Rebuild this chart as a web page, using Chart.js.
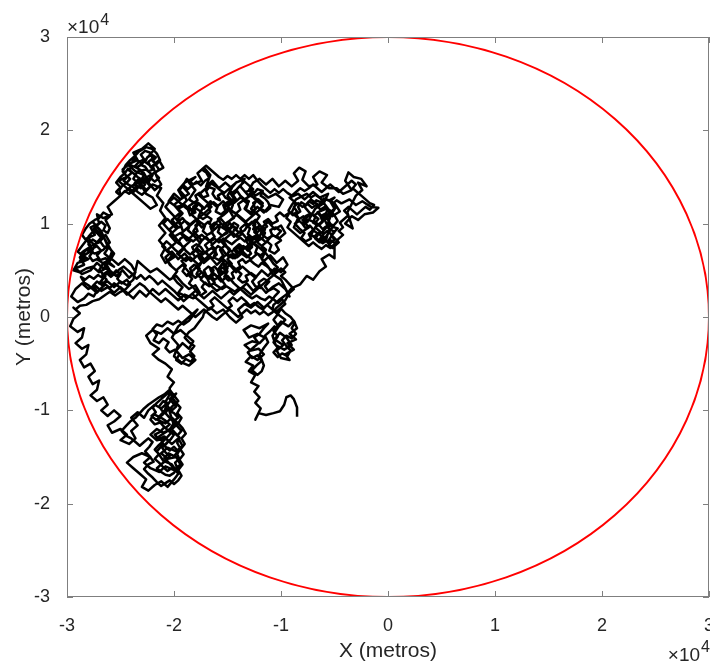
<!DOCTYPE html>
<html>
<head>
<meta charset="utf-8">
<script src="https://cdn.jsdelivr.net/npm/chart.js@4.4.1/dist/chart.umd.min.js"></script>
<style>
  html, body { margin: 0; padding: 0; background: #fff; }
  #wrap { width: 710px; height: 666px; }
</style>
</head>
<body>
<div id="wrap"><canvas id="walkChart" width="710" height="666"></canvas></div>
<script>
// valores em unidades de 10^4 metros
const axisTicks = [-3, -2, -1, 0, 1, 2, 3];
const circleCenter = [0, 0];
const circleRadius = 3;

// passeio aleatório, lido por trechos
const hookChain = [
  [-0.85,-1.07],[-0.85,-0.97],[-0.88,-0.88],[-0.91,-0.84],[-0.95,-0.86],[-0.97,-0.94],[-1.01,-1.01],[-1.07,-1.03],
  [-1.14,-1.05],[-1.21,-1.03],[-1.24,-1.10],[-1.19,-0.98],[-1.24,-0.92],[-1.20,-0.86],[-1.25,-0.80],[-1.21,-0.74],
  [-1.28,-0.70],[-1.24,-0.62],[-1.30,-0.58],[-1.26,-0.52],[-1.33,-0.48],[-1.28,-0.42],[-1.22,-0.46],[-1.16,-0.40],
  [-1.21,-0.34],[-1.28,-0.36],[-1.34,-0.30],[-1.27,-0.26],[-1.20,-0.28],[-1.15,-0.22],[-1.22,-0.18],[-1.30,-0.22],
  [-1.35,-0.14],[-1.28,-0.09],[-1.20,-0.12],[-1.12,-0.07]
];
const hookTangle = [
  [-1.16,-0.12],[-1.20,-0.18],[-1.25,-0.22],[-1.21,-0.28],[-1.26,-0.33],[-1.31,-0.38],[-1.27,-0.44],[-1.22,-0.41],
  [-1.18,-0.47],[-1.23,-0.52],[-1.27,-0.57],[-1.22,-0.62],[-1.18,-0.58],[-1.16,-0.52],[-1.20,-0.40],[-1.16,-0.33],
  [-1.12,-0.27],[-1.15,-0.20],[-1.10,-0.15],[-1.06,-0.10]
];
const lowerRightCluster = [
  [-1.05,-0.12],[-1.00,-0.05],[-0.93,-0.10],[-0.88,-0.04],[-0.85,-0.12],[-0.92,-0.18],[-0.86,-0.24],[-0.94,-0.28],
  [-0.88,-0.35],[-0.96,-0.40],[-0.92,-0.46],[-1.00,-0.44],[-1.04,-0.36],[-0.98,-0.30],[-1.06,-0.24],[-1.01,-0.17],
  [-0.95,-0.22],[-0.90,-0.30],[-0.97,-0.35],[-1.05,-0.30],[-1.08,-0.20],[-1.02,-0.10],[-0.96,-0.03],[-1.03,0.03],
  [-1.00,0.09]
];
const lowerRightTangle = [
  [-0.96,0.04],[-0.91,0.00],[-0.87,-0.06],[-0.90,-0.12],[-0.86,-0.18],[-0.90,-0.23],[-0.95,-0.20],[-0.99,-0.25],
  [-0.95,-0.31],[-0.91,-0.36],[-0.94,-0.42],[-0.99,-0.39],[-1.03,-0.43],[-1.07,-0.38],[-1.03,-0.33],[-1.07,-0.27],
  [-1.03,-0.21],[-1.07,-0.15],[-1.03,-0.09],[-1.07,-0.03],[-1.03,0.03],[-1.08,0.08]
];
const climbRight = [
  [-1.07,0.13],[-1.01,0.19],[-0.95,0.24],[-0.90,0.31],[-0.82,0.35],[-0.76,0.44],[-0.70,0.40],[-0.64,0.49],
  [-0.58,0.54],[-0.62,0.62],[-0.55,0.67],[-0.50,0.63]
];
const rightTangle = [
  [-0.50,0.80],[-0.55,0.83],[-0.52,0.88],[-0.57,0.92],[-0.61,0.88],[-0.59,0.83],[-0.64,0.80],[-0.68,0.84],
  [-0.65,0.89],[-0.70,0.93],[-0.74,0.89],[-0.72,0.84],[-0.77,0.81],[-0.81,0.85],[-0.78,0.90],[-0.83,0.95],
  [-0.87,1.00],[-0.83,1.03],[-0.79,0.99],[-0.75,1.02],[-0.77,1.08],[-0.72,1.11],[-0.68,1.07],[-0.70,1.01],
  [-0.65,0.98],[-0.61,1.02],[-0.63,1.08],[-0.58,1.11],[-0.54,1.07],[-0.56,1.01],[-0.51,0.98],[-0.47,1.03],
  [-0.50,1.09],[-0.54,1.14],[-0.59,1.18],[-0.63,1.15],[-0.67,1.20],[-0.71,1.17],[-0.75,1.21],[-0.80,1.18],
  [-0.84,1.22],[-0.88,1.18],[-0.85,1.13],[-0.89,1.09],[-0.93,1.14],[-0.90,1.20],[-0.86,1.26],[-0.81,1.29],
  [-0.76,1.32],[-0.72,1.28],[-0.68,1.31],[-0.63,1.27],[-0.60,1.22],[-0.56,1.16],[-0.60,1.06],[-0.55,0.94],
  [-0.58,0.82]
];
const rightBlob = [
  [-0.52,0.74],[-0.46,0.80],[-0.53,0.88],[-0.47,0.95],[-0.56,0.98],[-0.62,0.90],[-0.68,0.96],[-0.60,1.04],
  [-0.66,1.12],[-0.58,1.16],[-0.52,1.08],[-0.45,1.13],[-0.50,1.22],[-0.58,1.26],[-0.65,1.20],[-0.72,1.26],
  [-0.78,1.18],[-0.72,1.10],[-0.80,1.04],[-0.74,0.96],[-0.82,0.90],[-0.88,0.96],[-0.84,1.06],[-0.90,1.12],
  [-0.86,1.22],[-0.92,1.28],[-0.84,1.32],[-0.78,1.26],[-0.70,1.34],[-0.64,1.28],[-0.56,1.32],[-0.60,1.22],
  [-0.68,1.16],[-0.74,1.04],[-0.66,1.00],[-0.72,0.88],[-0.64,0.82],[-0.58,0.86],[-0.52,0.96],[-0.58,1.08],
  [-0.50,1.16],[-0.54,1.24],[-0.50,1.28]
];
const rightScribble = [
  [-0.55,1.25],[-0.60,1.27],[-0.63,1.23],[-0.67,1.25],[-0.70,1.21],[-0.74,1.24],[-0.77,1.20],[-0.81,1.23],
  [-0.84,1.18],[-0.82,1.13],[-0.86,1.10],[-0.83,1.05],[-0.79,1.08],[-0.76,1.04],[-0.80,1.00],[-0.77,0.95],
  [-0.73,0.98],[-0.70,0.94],[-0.73,0.89],[-0.69,0.86],[-0.65,0.90],[-0.62,0.86],[-0.65,0.82],[-0.61,0.79],
  [-0.57,0.82],[-0.54,0.79],[-0.50,0.83],[-0.53,0.87],[-0.50,0.91],[-0.54,0.94],[-0.58,0.97],[-0.61,0.94],
  [-0.64,0.98],[-0.68,1.01],[-0.65,1.05],[-0.69,1.09],[-0.65,1.12],[-0.62,1.08],[-0.58,1.05],[-0.55,1.09],
  [-0.52,1.12],[-0.49,1.17],[-0.52,1.21],[-0.48,1.25],[-0.44,1.22]
];
const rightSpike = [
  [-0.43,1.22],[-0.36,1.26],[-0.30,1.20],[-0.24,1.24],[-0.16,1.18],[-0.09,1.17],[-0.14,1.12],[-0.22,1.10],
  [-0.28,1.04],[-0.34,1.08],[-0.40,1.00],[-0.33,0.95],[-0.38,1.12],[-0.30,1.30],[-0.24,1.36],[-0.28,1.44],
  [-0.20,1.40],[-0.25,1.48],[-0.32,1.50],[-0.37,1.55],[-0.40,1.46],[-0.34,1.36],[-0.42,1.32],[-0.48,1.38]
];
const topBit = [
  [-0.55,1.38],[-0.62,1.44],[-0.57,1.52],[-0.64,1.56],[-0.70,1.50],[-0.66,1.42],[-0.74,1.40],[-0.80,1.47],
  [-0.77,1.56],[-0.83,1.60],[-0.88,1.54],[-0.84,1.46],[-0.90,1.40]
];
const centralTop = [
  [-0.96,1.46],[-1.02,1.40],[-1.08,1.48],[-1.14,1.42],[-1.20,1.48],[-1.26,1.44],[-1.30,1.36],[-1.24,1.30],
  [-1.18,1.34],[-1.12,1.28],[-1.05,1.32],[-0.98,1.26],[-1.02,1.18],[-1.10,1.20]
];
const centralSweep = [
  [-1.16,1.12],[-1.22,1.18],[-1.28,1.10],[-1.34,1.16],[-1.30,1.24],[-1.38,1.28],[-1.44,1.22],[-1.50,1.30],
  [-1.46,1.38],[-1.52,1.44],[-1.58,1.38],[-1.64,1.46],[-1.70,1.40],[-1.66,1.52],[-1.72,1.60],[-1.78,1.54],
  [-1.74,1.46],[-1.82,1.42],[-1.88,1.48],[-1.92,1.40],[-1.86,1.32],[-1.94,1.26],[-2.00,1.32],[-2.05,1.24],
  [-1.98,1.18],[-1.90,1.20],[-1.84,1.14],[-1.78,1.22],[-1.72,1.16],[-1.66,1.24],[-1.60,1.18],[-1.54,1.24],
  [-1.48,1.16],[-1.42,1.10],[-1.36,1.04],[-1.30,0.98],[-1.24,1.04],[-1.18,0.96],[-1.12,1.02],[-1.06,0.94],
  [-1.00,0.98],[-0.96,0.90],[-1.02,0.84],[-1.08,0.88],[-1.14,0.80],[-1.20,0.86],[-1.26,0.78],[-1.32,0.84],
  [-1.38,0.92],[-1.44,0.86],[-1.50,0.94],[-1.56,1.00],[-1.62,0.94],[-1.68,1.02],[-1.74,0.96],[-1.80,1.04],
  [-1.86,0.98],[-1.92,1.06],[-1.98,1.00],[-2.04,0.94],[-2.00,0.86],[-1.94,0.90],[-1.88,0.82],[-1.82,0.88],
  [-1.76,0.80],[-1.70,0.86],[-1.64,0.78],[-1.58,0.84],[-1.52,0.76],[-1.46,0.70],[-1.40,0.76],[-1.34,0.68],
  [-1.28,0.62],[-1.22,0.68],[-1.16,0.60],[-1.10,0.66],[-1.04,0.58],[-0.98,0.64],[-0.94,0.56],[-1.00,0.48],
  [-1.06,0.52],[-1.12,0.44],[-1.18,0.50],[-1.24,0.42],[-1.30,0.48],[-1.36,0.54],[-1.42,0.48],[-1.48,0.56],
  [-1.54,0.62],[-1.60,0.56],[-1.66,0.64],[-1.72,0.58],[-1.78,0.66],[-1.84,0.60],[-1.90,0.68],[-1.96,0.62],
  [-2.02,0.70],[-2.08,0.64]
];
const centralBottom = [
  [-2.04,0.56],[-1.98,0.50],[-1.92,0.56],[-1.86,0.48],[-1.80,0.42],[-1.74,0.48],[-1.68,0.40],[-1.62,0.46],
  [-1.56,0.38],[-1.50,0.44],[-1.44,0.36],[-1.38,0.30],[-1.32,0.36],[-1.26,0.28],[-1.20,0.34],[-1.14,0.26],
  [-1.08,0.32],[-1.02,0.36],[-0.96,0.30],[-0.92,0.22]
];
const centralVertical = [
  [-1.00,0.40],[-1.08,0.46],[-1.12,0.54],[-1.18,0.62],[-1.14,0.72],[-1.22,0.80],[-1.18,0.92],[-1.26,0.98],
  [-1.20,1.08],[-1.28,1.16],[-1.22,1.26],[-1.32,1.32],[-1.38,1.40],[-1.34,1.48],[-1.42,1.44],[-1.48,1.36],
  [-1.42,1.26],[-1.50,1.18],[-1.44,1.06],[-1.52,1.00],[-1.46,0.90],[-1.54,0.82],[-1.48,0.70],[-1.56,0.62],
  [-1.50,0.52],[-1.58,0.44],[-1.52,0.34],[-1.60,0.28],[-1.66,0.34],[-1.70,0.44],[-1.78,0.52],[-1.72,0.62],
  [-1.80,0.72],[-1.74,0.82],[-1.82,0.92],[-1.76,1.02],[-1.84,1.10],[-1.78,1.20],[-1.86,1.26],[-1.80,1.36],
  [-1.86,1.44],[-1.80,1.50],[-1.90,1.44],[-1.96,1.36],[-1.92,1.28],[-2.00,1.20],[-1.94,1.12],[-2.02,1.04],
  [-1.96,0.96],[-2.04,0.88],[-1.98,0.80],[-2.06,0.72],[-2.00,0.64],[-2.08,0.58]
];
const toTopLeft = [
  [-2.12,0.66],[-2.08,0.74],[-2.14,0.82],[-2.08,0.90],[-2.14,0.98],[-2.08,1.06],[-2.13,1.14]
];
const topLeft = [
  [-2.10,1.22],[-2.16,1.30],[-2.12,1.38],[-2.20,1.42],[-2.26,1.36],[-2.32,1.44],[-2.28,1.52],[-2.36,1.56],
  [-2.42,1.62],[-2.36,1.70],[-2.30,1.64],[-2.24,1.72],[-2.18,1.80],[-2.24,1.86],[-2.30,1.80],[-2.38,1.76],
  [-2.34,1.68],[-2.42,1.64],[-2.48,1.58],[-2.44,1.50],[-2.52,1.46],[-2.46,1.40],[-2.40,1.34],[-2.34,1.28],
  [-2.28,1.22],[-2.22,1.16],[-2.16,1.20],[-2.20,1.28],[-2.26,1.32],[-2.30,1.40],[-2.38,1.48],[-2.34,1.56],
  [-2.26,1.58],[-2.20,1.52],[-2.24,1.44],[-2.18,1.36],[-2.12,1.42],[-2.16,1.50],[-2.20,1.62],[-2.14,1.68],
  [-2.10,1.60],[-2.16,1.56],[-2.28,1.48],[-2.40,1.40],[-2.46,1.34]
];
const topLeftTangle = [
  [-2.42,1.38],[-2.38,1.34],[-2.34,1.38],[-2.37,1.43],[-2.33,1.48],[-2.29,1.44],[-2.25,1.48],[-2.28,1.54],
  [-2.32,1.58],[-2.37,1.61],[-2.33,1.66],[-2.28,1.69],[-2.31,1.74],[-2.27,1.78],[-2.22,1.76],[-2.20,1.70],
  [-2.24,1.66],[-2.22,1.61],[-2.17,1.63],[-2.14,1.58],[-2.18,1.54],[-2.14,1.49],[-2.18,1.45],[-2.22,1.49],
  [-2.26,1.45],[-2.22,1.40],[-2.26,1.35],[-2.30,1.31],[-2.34,1.34],[-2.38,1.39],[-2.43,1.42],[-2.47,1.46],
  [-2.43,1.51],[-2.39,1.55],[-2.43,1.59],[-2.46,1.54],[-2.50,1.50],[-2.54,1.44],[-2.50,1.39],[-2.54,1.34],
  [-2.50,1.30]
];
const topLeftScribble = [
  [-2.46,1.35],[-2.42,1.32],[-2.38,1.36],[-2.35,1.41],[-2.31,1.38],[-2.27,1.42],[-2.30,1.47],[-2.34,1.50],
  [-2.38,1.54],[-2.42,1.57],[-2.39,1.62],[-2.35,1.60],[-2.31,1.63],[-2.27,1.61],[-2.24,1.56],[-2.20,1.58],
  [-2.23,1.63],[-2.27,1.66],[-2.25,1.71],[-2.21,1.74],[-2.17,1.71],[-2.20,1.67],[-2.16,1.64],[-2.13,1.68],
  [-2.16,1.75],[-2.20,1.80],[-2.26,1.82],[-2.33,1.77],[-2.37,1.72],[-2.41,1.68],[-2.45,1.63],[-2.48,1.56],
  [-2.45,1.52],[-2.41,1.48],[-2.44,1.44],[-2.48,1.41],[-2.51,1.36],[-2.50,1.30]
];
const circleSide = [
  [-2.50,1.30],[-2.56,1.24],[-2.62,1.18],[-2.58,1.10],[-2.66,1.06],[-2.72,1.10],[-2.70,1.00],[-2.78,0.96],
  [-2.74,0.88],[-2.82,0.84],[-2.78,0.76],[-2.70,0.80],[-2.64,0.88],[-2.60,0.80],[-2.66,0.72],[-2.74,0.68],
  [-2.82,0.72],[-2.88,0.64],[-2.84,0.56],[-2.92,0.52],[-2.86,0.46],[-2.78,0.50],[-2.72,0.58],[-2.66,0.52],
  [-2.60,0.60],[-2.56,0.68],[-2.62,0.76],[-2.68,0.92],[-2.76,1.02],[-2.70,0.94],[-2.64,0.82],[-2.58,0.70],
  [-2.62,0.58],[-2.56,0.54]
];
const circleSideTangle = [
  [-2.60,0.58],[-2.64,0.63],[-2.69,0.61],[-2.72,0.66],[-2.68,0.71],[-2.72,0.76],[-2.77,0.73],[-2.80,0.78],
  [-2.76,0.83],[-2.72,0.80],[-2.68,0.85],[-2.72,0.90],[-2.76,0.93],[-2.72,0.98],[-2.68,1.02],[-2.64,0.98],
  [-2.66,0.93],[-2.62,0.90],[-2.60,0.95],[-2.64,1.04],[-2.60,1.08],[-2.66,1.12],[-2.70,1.06],[-2.74,1.04],
  [-2.79,1.00],[-2.83,0.94],[-2.86,0.88],[-2.82,0.82],[-2.86,0.76],[-2.90,0.70],[-2.86,0.66],[-2.80,0.62],
  [-2.84,0.60],[-2.90,0.58],[-2.94,0.50],[-2.88,0.48],[-2.82,0.52],[-2.76,0.54],[-2.70,0.48],[-2.64,0.52],
  [-2.60,0.50]
];
const circleSideScribble = [
  [-2.64,0.55],[-2.68,0.59],[-2.72,0.62],[-2.76,0.60],[-2.79,0.65],[-2.76,0.70],[-2.80,0.74],[-2.84,0.71],
  [-2.87,0.68],[-2.84,0.63],[-2.88,0.60],[-2.84,0.66],[-2.80,0.69],[-2.76,0.72],[-2.74,0.77],[-2.78,0.81],
  [-2.80,0.86],[-2.77,0.90],[-2.73,0.94],[-2.70,0.89],[-2.66,0.86],[-2.69,0.81],[-2.66,0.76],[-2.62,0.73],
  [-2.65,0.68],[-2.61,0.64],[-2.64,0.58],[-2.60,0.50]
];
const leftRidge = [
  [-2.60,0.50],[-2.54,0.44],[-2.48,0.50],[-2.42,0.42],[-2.36,0.48],[-2.40,0.56],[-2.46,0.62],[-2.52,0.56],
  [-2.58,0.62],[-2.66,0.58],[-2.70,0.50],[-2.64,0.44],[-2.70,0.36],[-2.62,0.38],[-2.56,0.32],[-2.50,0.38],
  [-2.44,0.34],[-2.38,0.40],[-2.34,0.60],[-2.28,0.54],[-2.22,0.48],[-2.16,0.52],[-2.10,0.46],[-2.04,0.40],
  [-1.98,0.44],[-1.92,0.36],[-1.86,0.30],[-1.80,0.34],[-1.76,0.26],[-1.82,0.20],[-1.90,0.24],[-1.96,0.18],
  [-2.02,0.24],[-2.08,0.30],[-2.14,0.24],[-2.20,0.30],[-2.26,0.22],[-2.32,0.28],[-2.38,0.20],[-2.44,0.26],
  [-2.50,0.32],[-2.56,0.26],[-2.62,0.32],[-2.68,0.28],[-2.74,0.34],[-2.80,0.30],[-2.86,0.36],[-2.92,0.30],
  [-2.96,0.22],[-2.90,0.16]
];
const leftRidgeTangle = [
  [-2.84,0.20],[-2.80,0.25],[-2.75,0.22],[-2.72,0.28],[-2.76,0.33],[-2.72,0.38],[-2.67,0.34],[-2.63,0.40],
  [-2.67,0.45],[-2.62,0.49],[-2.58,0.45],[-2.54,0.50],[-2.50,0.46],[-2.53,0.41],[-2.49,0.36],[-2.44,0.40],
  [-2.41,0.35],[-2.45,0.30],[-2.50,0.27],[-2.55,0.23],[-2.60,0.27],[-2.65,0.23],[-2.70,0.19],[-2.76,0.17],
  [-2.82,0.13],[-2.88,0.12],[-2.92,0.08]
];
const leftEdge = [
  [-2.94,0.10],[-2.88,0.04],[-2.94,-0.02],[-2.97,-0.10],[-2.90,-0.16],[-2.84,-0.12],[-2.86,-0.22],[-2.92,-0.28],
  [-2.86,-0.34],[-2.80,-0.30],[-2.82,-0.40],[-2.88,-0.46],[-2.84,-0.54],[-2.78,-0.50],[-2.74,-0.58],[-2.80,-0.64],
  [-2.76,-0.72],[-2.70,-0.68],[-2.72,-0.78],[-2.78,-0.84],[-2.72,-0.90],[-2.66,-0.86],[-2.62,-0.94],[-2.68,-1.00],
  [-2.62,-1.06],[-2.56,-1.00]
];
const bottomLeft = [
  [-2.50,-1.06],[-2.56,-1.12],[-2.62,-1.16],[-2.58,-1.24],[-2.50,-1.20],[-2.44,-1.26],[-2.50,-1.32],[-2.42,-1.36],
  [-2.36,-1.30],[-2.40,-1.22],[-2.34,-1.16],[-2.40,-1.08],[-2.34,-1.02],[-2.28,-1.08],[-2.24,-1.00],[-2.18,-0.94],
  [-2.12,-0.98],[-2.06,-0.92],[-2.10,-1.04],[-2.16,-1.10],[-2.08,-1.14],[-2.02,-1.08],[-1.96,-1.14],[-2.02,-1.20],
  [-2.10,-1.24],[-2.16,-1.20],[-2.22,-1.26],[-2.16,-1.32],[-2.08,-1.30],[-2.02,-1.36],[-1.96,-1.30],[-1.92,-1.38],
  [-1.98,-1.44],[-2.06,-1.40],[-2.12,-1.46],[-2.06,-1.52],[-1.98,-1.50],[-1.94,-1.58],[-2.00,-1.64],[-2.08,-1.60],
  [-2.14,-1.66],[-2.22,-1.62],[-2.28,-1.56],[-2.22,-1.50],[-2.30,-1.46],[-2.38,-1.50],[-2.44,-1.56],[-2.38,-1.62],
  [-2.32,-1.68],[-2.26,-1.74],[-2.30,-1.82],[-2.24,-1.86],[-2.18,-1.80],[-2.12,-1.76],[-2.06,-1.82],[-2.00,-1.74],
  [-1.96,-1.68],[-2.02,-1.58],[-2.10,-1.54],[-2.16,-1.44],[-2.10,-1.36],[-2.14,-1.28],[-2.06,-1.22],[-2.00,-1.16],
  [-2.04,-1.02],[-1.98,-0.96],[-2.04,-0.88],[-1.98,-0.82]
];
const bottomLeftTangle = [
  [-2.02,-0.88],[-2.06,-0.94],[-2.10,-0.90],[-2.14,-0.96],[-2.10,-1.02],[-2.14,-1.07],[-2.19,-1.04],[-2.22,-1.10],
  [-2.18,-1.15],[-2.13,-1.13],[-2.09,-1.18],[-2.13,-1.23],[-2.18,-1.26],[-2.14,-1.31],[-2.09,-1.28],[-2.05,-1.33],
  [-2.09,-1.38],[-2.04,-1.43],[-2.00,-1.39],[-1.96,-1.44],[-2.00,-1.49],[-2.05,-1.46],[-2.09,-1.51],[-2.05,-1.56],
  [-2.01,-1.61],[-2.06,-1.65],[-2.10,-1.61],[-2.14,-1.56],[-2.18,-1.52],[-2.14,-1.47],[-2.18,-1.42],[-2.14,-1.37],
  [-2.10,-1.33],[-2.05,-1.27],[-2.01,-1.22],[-1.97,-1.27],[-1.93,-1.22],[-1.97,-1.17],[-2.01,-1.12],[-1.96,-1.08],
  [-2.00,-1.03],[-2.05,-1.00],[-2.01,-0.95],[-1.96,-0.90],[-2.00,-0.84],[-2.04,-0.78]
];
const bottomLeftScribble = [
  [-2.08,-0.84],[-2.12,-0.88],[-2.16,-0.92],[-2.20,-0.97],[-2.17,-1.02],[-2.21,-1.06],[-2.17,-1.10],[-2.12,-1.08],
  [-2.08,-1.11],[-2.04,-1.15],[-2.08,-1.19],[-2.04,-1.23],[-2.00,-1.26],[-2.03,-1.31],[-2.07,-1.35],[-2.11,-1.40],
  [-2.08,-1.45],[-2.04,-1.49],[-2.08,-1.54],[-2.12,-1.58],[-2.16,-1.62],[-2.12,-1.66],[-2.08,-1.69],[-2.04,-1.70],
  [-2.00,-1.67],[-1.97,-1.62],[-1.99,-1.56],[-1.95,-1.52],[-1.97,-1.47],[-1.94,-1.41],[-1.97,-1.35],[-1.95,-1.29],
  [-1.99,-1.24],[-2.03,-1.19],[-2.00,-1.13],[-2.04,-1.08],[-2.08,-1.03],[-2.05,-0.97],[-2.08,-0.91],[-2.05,-0.85],
  [-2.04,-0.78]
];
const bottomLeftOuter = [
  [-2.09,-0.83],[-2.14,-0.86],[-2.19,-0.90],[-2.24,-0.94],[-2.28,-0.98],[-2.32,-1.03],[-2.36,-1.08],[-2.41,-1.12],
  [-2.45,-1.17],[-2.49,-1.22],[-2.45,-1.27],[-2.40,-1.30],[-2.36,-1.34],[-2.32,-1.38],[-2.28,-1.34],[-2.24,-1.30],
  [-2.20,-1.34],[-2.23,-1.39],[-2.27,-1.44],[-2.23,-1.49],[-2.19,-1.55],[-2.24,-1.58],[-2.28,-1.63],[-2.24,-1.68],
  [-2.20,-1.72],[-2.16,-1.77],[-2.12,-1.81],[-2.08,-1.78],[-2.04,-1.75],[-2.00,-1.79],[-1.96,-1.75],[-1.93,-1.70],
  [-1.96,-1.64],[-1.92,-1.58],[-1.95,-1.53],[-1.91,-1.47],[-1.94,-1.42],[-1.90,-1.36],[-1.93,-1.30],[-1.89,-1.25],
  [-1.92,-1.19],[-1.96,-1.14],[-1.93,-1.08],[-1.97,-1.03],[-1.94,-0.97],[-1.98,-0.92],[-2.02,-0.86],[-2.04,-0.78]
];
const midLeft = [
  [-2.04,-0.76],[-2.00,-0.70],[-2.06,-0.64],[-2.02,-0.56],[-2.08,-0.50],[-2.14,-0.46],[-2.20,-0.40],[-2.14,-0.34],
  [-2.22,-0.28],[-2.26,-0.20],[-2.20,-0.14],[-2.12,-0.18],[-2.06,-0.12],[-2.00,-0.18],[-1.94,-0.14],[-1.88,-0.20],
  [-1.82,-0.26],[-1.86,-0.34],[-1.92,-0.28],[-1.98,-0.36],[-1.92,-0.44],[-1.86,-0.40],[-1.80,-0.46],[-1.86,-0.52],
  [-1.94,-0.48],[-2.00,-0.42],[-1.96,-0.30],[-2.02,-0.22],[-1.96,-0.10],[-1.90,-0.04],[-1.84,0.02],[-1.78,0.08]
];
const midLeftTangle = [
  [-1.82,0.02],[-1.86,-0.04],[-1.91,-0.08],[-1.96,-0.04],[-2.01,-0.08],[-2.06,-0.05],[-2.11,-0.10],[-2.16,-0.08],
  [-2.20,-0.13],[-2.16,-0.19],[-2.19,-0.25],[-2.14,-0.28],[-2.10,-0.23],[-2.05,-0.27],[-2.08,-0.33],[-2.04,-0.38],
  [-1.99,-0.35],[-1.95,-0.40],[-1.98,-0.46],[-1.93,-0.50],[-1.89,-0.45],[-1.84,-0.48],[-1.81,-0.42],[-1.85,-0.37],
  [-1.81,-0.31],[-1.86,-0.27],[-1.90,-0.22],[-1.86,-0.16],[-1.81,-0.12],[-1.77,-0.06],[-1.73,0.00]
];
const backToCentre = [
  [-1.72,0.04],[-1.66,0.10],[-1.60,0.04],[-1.54,0.08],[-1.48,0.00],[-1.42,-0.06],[-1.36,0.00],[-1.40,0.08],
  [-1.34,0.14],[-1.28,0.10],[-1.22,0.16],[-1.16,0.10],[-1.10,0.16]
];
const centralRowA = [
  [-1.06,0.22],[-1.02,0.27],[-1.07,0.31],[-1.12,0.28],[-1.15,0.33],[-1.11,0.38],[-1.16,0.41],[-1.21,0.37],
  [-1.19,0.31],[-1.24,0.33],[-1.27,0.38],[-1.23,0.43],[-1.28,0.47],[-1.33,0.44],[-1.31,0.39],[-1.36,0.37],
  [-1.40,0.41],[-1.37,0.46],[-1.42,0.51],[-1.46,0.47],[-1.44,0.42],[-1.49,0.39],[-1.53,0.43],[-1.50,0.49],
  [-1.55,0.53],[-1.59,0.49],[-1.57,0.44],[-1.62,0.40],[-1.66,0.44],[-1.63,0.50],[-1.68,0.54],[-1.72,0.50],
  [-1.70,0.45],[-1.75,0.42],[-1.79,0.46],[-1.76,0.52],[-1.81,0.56],[-1.85,0.52],[-1.83,0.47],[-1.88,0.44],
  [-1.92,0.49]
];
const centralRowB = [
  [-1.89,0.55],[-1.93,0.60],[-1.88,0.64],[-1.84,0.60],[-1.80,0.64],[-1.83,0.69],[-1.78,0.73],[-1.74,0.69],
  [-1.76,0.63],[-1.71,0.60],[-1.67,0.64],[-1.70,0.70],[-1.65,0.74],[-1.61,0.70],[-1.63,0.64],[-1.58,0.61],
  [-1.54,0.66],[-1.57,0.72],[-1.52,0.77],[-1.48,0.73],[-1.50,0.67],[-1.45,0.63],[-1.41,0.67],[-1.44,0.73],
  [-1.39,0.78],[-1.35,0.74],[-1.37,0.68],[-1.32,0.64],[-1.28,0.68],[-1.31,0.74],[-1.26,0.79],[-1.22,0.75],
  [-1.24,0.69],[-1.19,0.66],[-1.15,0.70],[-1.18,0.76],[-1.13,0.81],[-1.09,0.77],[-1.11,0.71],[-1.06,0.68],
  [-1.02,0.72],[-1.05,0.78],[-1.00,0.82]
];
const centralRowC = [
  [-1.04,0.87],[-1.00,0.92],[-1.05,0.96],[-1.10,0.93],[-1.08,0.87],[-1.13,0.84],[-1.17,0.88],[-1.15,0.94],
  [-1.20,0.98],[-1.24,0.94],[-1.22,0.88],[-1.27,0.85],[-1.31,0.89],[-1.29,0.95],[-1.34,0.99],[-1.38,0.95],
  [-1.36,0.89],[-1.41,0.86],[-1.45,0.90],[-1.43,0.96],[-1.48,1.00],[-1.52,0.96],[-1.50,0.90],[-1.55,0.87],
  [-1.59,0.91],[-1.57,0.97],[-1.62,1.01],[-1.66,0.97],[-1.64,0.91],[-1.69,0.88],[-1.73,0.92],[-1.71,0.98],
  [-1.76,1.02],[-1.80,0.98],[-1.78,0.92],[-1.83,0.89],[-1.87,0.93],[-1.85,0.99],[-1.90,1.03],[-1.94,0.99],
  [-1.92,0.93]
];
const centralRowD = [
  [-1.96,1.06],[-1.92,1.11],[-1.96,1.16],[-1.91,1.19],[-1.87,1.15],[-1.85,1.09],[-1.80,1.12],[-1.82,1.18],
  [-1.77,1.22],[-1.73,1.18],[-1.75,1.12],[-1.70,1.09],[-1.66,1.13],[-1.68,1.19],[-1.63,1.23],[-1.59,1.19],
  [-1.61,1.13],[-1.56,1.10],[-1.52,1.14],[-1.54,1.20],[-1.49,1.24],[-1.45,1.20],[-1.47,1.14],[-1.42,1.11],
  [-1.38,1.15],[-1.40,1.21],[-1.35,1.25],[-1.31,1.21],[-1.33,1.15],[-1.28,1.12],[-1.24,1.16],[-1.26,1.22],
  [-1.21,1.26],[-1.17,1.22],[-1.19,1.16],[-1.14,1.13],[-1.10,1.17],[-1.12,1.23]
];
const centralScribbleA = [
  [-1.15,1.27],[-1.19,1.30],[-1.17,1.35],[-1.22,1.37],[-1.25,1.33],[-1.28,1.36],[-1.33,1.34],[-1.30,1.29],
  [-1.34,1.26],[-1.38,1.30],[-1.41,1.35],[-1.45,1.31],[-1.43,1.27],[-1.47,1.25],[-1.52,1.28],[-1.55,1.33],
  [-1.59,1.30],[-1.57,1.25],[-1.61,1.27],[-1.64,1.32],[-1.62,1.37],[-1.67,1.39],[-1.70,1.35],[-1.68,1.30],
  [-1.73,1.28],[-1.76,1.33],[-1.80,1.30],[-1.78,1.25],[-1.82,1.22],[-1.86,1.19],[-1.84,1.14],[-1.79,1.16],
  [-1.75,1.13],[-1.77,1.08],[-1.73,1.05],[-1.69,1.08],[-1.65,1.05],[-1.67,1.00],[-1.63,0.97],[-1.60,1.02],
  [-1.56,1.05],[-1.53,1.01],[-1.55,0.96],[-1.51,0.93],[-1.47,0.96],[-1.44,1.01],[-1.40,0.98],[-1.42,0.93],
  [-1.38,0.90],[-1.34,0.93],[-1.31,0.98],[-1.27,1.02],[-1.24,0.99],[-1.26,0.94],[-1.22,0.91],[-1.18,0.95],
  [-1.15,0.90],[-1.17,0.85],[-1.21,0.82],[-1.25,0.84],[-1.29,0.80],[-1.27,0.75],[-1.31,0.71],[-1.35,0.76],
  [-1.39,0.73],[-1.37,0.68],[-1.41,0.64],[-1.45,0.68],[-1.48,0.64],[-1.52,0.68],[-1.55,0.73],[-1.59,0.76],
  [-1.62,0.72],[-1.60,0.67],[-1.64,0.63],[-1.68,0.66],[-1.72,0.70],[-1.75,0.75],[-1.79,0.78],[-1.83,0.75],
  [-1.81,0.70],[-1.85,0.67],[-1.89,0.71],[-1.92,0.76],[-1.96,0.79],[-1.94,0.84],[-1.90,0.87],[-1.86,0.84],
  [-1.82,0.81],[-1.78,0.85],[-1.74,0.88],[-1.70,0.84],[-1.66,0.81],[-1.62,0.84],[-1.58,0.80],[-1.54,0.84],
  [-1.50,0.81],[-1.46,0.78],[-1.42,0.82],[-1.38,0.85],[-1.34,0.81],[-1.30,0.84]
];
const centralScribbleB = [
  [-1.26,0.80],[-1.22,0.76],[-1.18,0.72],[-1.14,0.68],[-1.10,0.62],[-1.07,0.57],[-1.03,0.53],[-1.06,0.48],
  [-1.10,0.51],[-1.14,0.55],[-1.18,0.58],[-1.21,0.54],[-1.25,0.57],[-1.29,0.61],[-1.33,0.58],[-1.36,0.62],
  [-1.40,0.59],[-1.38,0.54],[-1.42,0.51],[-1.46,0.55],[-1.50,0.58],[-1.53,0.54],[-1.51,0.49],[-1.55,0.46],
  [-1.59,0.50],[-1.62,0.54],[-1.66,0.51],[-1.64,0.46],[-1.68,0.43],[-1.72,0.46],[-1.75,0.40],[-1.71,0.36],
  [-1.67,0.33],[-1.63,0.36],[-1.59,0.33],[-1.55,0.30],[-1.51,0.33],[-1.47,0.30],[-1.43,0.27],[-1.39,0.31],
  [-1.35,0.27],[-1.31,0.23],[-1.27,0.20],[-1.23,0.23],[-1.19,0.20],[-1.15,0.18],[-1.11,0.22],[-1.07,0.19]
];
const lowBand = [
  [-1.03,0.15],[-0.99,0.19],[-0.96,0.14],[-1.00,0.10],[-1.04,0.06],[-1.09,0.09],[-1.13,0.13],[-1.17,0.08],
  [-1.21,0.11],[-1.25,0.15],[-1.29,0.12],[-1.33,0.17],[-1.37,0.21],[-1.41,0.17],[-1.45,0.21],[-1.49,0.17],
  [-1.46,0.12],[-1.50,0.09],[-1.54,0.13],[-1.58,0.17],[-1.62,0.21],[-1.66,0.17],[-1.63,0.12],[-1.67,0.08],
  [-1.71,0.12],[-1.75,0.16],[-1.79,0.20],[-1.83,0.25],[-1.87,0.21],[-1.91,0.17],[-1.95,0.22],[-1.99,0.27],
  [-2.03,0.31],[-2.07,0.35],[-2.11,0.39],[-2.15,0.35],[-2.19,0.40],[-2.23,0.44],[-2.27,0.40],[-2.31,0.45],
  [-2.35,0.41],[-2.39,0.46],[-2.43,0.50],[-2.47,0.54],[-2.51,0.51],[-2.55,0.47],[-2.59,0.43],[-2.63,0.47],
  [-2.67,0.42],[-2.71,0.45],[-2.75,0.41],[-2.79,0.44],[-2.83,0.40],[-2.87,0.43],[-2.84,0.37],[-2.80,0.34],
  [-2.76,0.30],[-2.72,0.26],[-2.68,0.31],[-2.64,0.35],[-2.60,0.31],[-2.56,0.36],[-2.52,0.33],[-2.48,0.29],
  [-2.44,0.24],[-2.40,0.28],[-2.36,0.32],[-2.32,0.36],[-2.28,0.33],[-2.24,0.28],[-2.20,0.24],[-2.16,0.20],
  [-2.12,0.16],[-2.08,0.20],[-2.04,0.16],[-2.00,0.12],[-1.96,0.08],[-1.92,0.12]
];
const bottomEdge = [
  [-1.88,0.08],[-1.84,0.04],[-1.80,0.00],[-1.76,0.04],[-1.72,0.08],[-1.68,0.04],[-1.64,0.00],[-1.60,-0.03],
  [-1.56,0.01],[-1.52,0.05],[-1.48,0.08],[-1.44,0.04],[-1.40,0.00],[-1.36,0.04],[-1.32,0.08],[-1.28,0.04],
  [-1.24,0.07],[-1.20,0.03],[-1.16,0.06],[-1.12,0.02],[-1.08,0.05],[-1.04,0.10],[-1.00,0.14],[-0.96,0.18],
  [-0.92,0.26],[-0.88,0.30],[-0.92,0.35],[-0.96,0.40],[-1.00,0.44],[-0.96,0.48],[-1.00,0.52],[-1.04,0.48],
  [-1.08,0.44],[-1.12,0.40],[-1.16,0.36],[-1.20,0.32],[-1.24,0.28],[-1.28,0.24],[-1.32,0.28],[-1.36,0.32],
  [-1.40,0.28],[-1.44,0.24],[-1.48,0.28],[-1.52,0.24],[-1.56,0.20],[-1.60,0.24],[-1.64,0.28],[-1.68,0.24],
  [-1.72,0.20],[-1.76,0.24],[-1.80,0.28],[-1.84,0.24],[-1.88,0.20],[-1.92,0.24],[-1.96,0.26]
];
const upperLeftScribble = [
  [-1.96,0.26],[-1.92,0.32],[-1.97,0.37],[-2.01,0.43],[-1.97,0.49],[-2.02,0.54],[-2.06,0.60],[-2.02,0.66],
  [-2.07,0.71],[-2.11,0.76],[-2.07,0.81],[-2.03,0.77],[-1.99,0.72],[-1.95,0.68],[-1.91,0.73],[-1.94,0.79],
  [-1.98,0.84],[-2.02,0.90],[-2.06,0.95],[-2.10,1.00],[-2.06,1.05],[-2.02,1.00],[-1.98,0.95],[-1.93,0.97],
  [-1.96,1.02],[-2.00,1.08],[-2.04,1.13],[-2.08,1.18],[-2.04,1.24],[-2.00,1.28],[-1.96,1.24],[-1.92,1.20],
  [-1.88,1.25],[-1.91,1.31],[-1.95,1.36],[-1.91,1.41],[-1.87,1.37],[-1.83,1.41],[-1.79,1.45],[-1.75,1.41],
  [-1.71,1.46],[-1.67,1.49],[-1.70,1.55],[-1.74,1.58],[-1.70,1.62],[-1.66,1.58],[-1.62,1.54],[-1.58,1.50],
  [-1.54,1.47],[-1.50,1.51],[-1.46,1.48],[-1.42,1.52],[-1.38,1.48],[-1.34,1.52],[-1.30,1.48],[-1.26,1.52],
  [-1.22,1.46],[-1.18,1.41],[-1.14,1.37],[-1.10,1.33],[-1.06,1.37],[-1.02,1.33],[-0.98,1.37],[-0.94,1.33],
  [-0.90,1.30]
];
const rightScribble2 = [
  [-0.86,1.34],[-0.82,1.38],[-0.78,1.35],[-0.74,1.38],[-0.70,1.42],[-0.66,1.38],[-0.62,1.34],[-0.58,1.38],
  [-0.54,1.42],[-0.50,1.38],[-0.46,1.34],[-0.42,1.38],[-0.38,1.42],[-0.34,1.46],[-0.30,1.42],[-0.33,1.38],
  [-0.29,1.34],[-0.25,1.30],[-0.21,1.26],[-0.17,1.22],[-0.13,1.20],[-0.17,1.15],[-0.21,1.18],[-0.25,1.14],
  [-0.29,1.10],[-0.33,1.14],[-0.37,1.18],[-0.41,1.14],[-0.37,1.09],[-0.41,1.05],[-0.45,1.01],[-0.42,0.96],
  [-0.46,0.92],[-0.42,0.88],[-0.46,0.84],[-0.50,0.78],[-0.54,0.74],[-0.58,0.77],[-0.62,0.73],[-0.66,0.76],
  [-0.70,0.80],[-0.74,0.76],[-0.78,0.80],[-0.82,0.84],[-0.86,0.88],[-0.90,0.92],[-0.94,0.96],[-0.91,1.02],
  [-0.95,1.06],[-0.92,1.12]
];
const diagonalScribble = [
  [-0.97,1.08],[-1.01,1.12],[-1.05,1.08],[-1.03,1.03],[-1.08,1.00],[-1.12,1.05],[-1.16,1.02],[-1.13,0.97],
  [-1.18,0.93],[-1.22,0.96],[-1.25,0.91],[-1.21,0.87],[-1.26,0.83],[-1.30,0.87],[-1.33,0.82],[-1.30,0.77],
  [-1.35,0.73],[-1.39,0.77],[-1.42,0.72],[-1.38,0.67],[-1.43,0.63],[-1.47,0.67],[-1.50,0.62],[-1.46,0.57],
  [-1.51,0.53],[-1.55,0.57],[-1.58,0.52],[-1.54,0.47],[-1.59,0.43],[-1.63,0.47],[-1.66,0.42],[-1.62,0.37],
  [-1.67,0.33],[-1.71,0.37],[-1.74,0.32],[-1.70,0.27],[-1.75,0.23],[-1.79,0.27],[-1.82,0.32],[-1.86,0.36],
  [-1.83,0.41],[-1.87,0.46],[-1.82,0.50],[-1.78,0.55],[-1.74,0.59],[-1.77,0.64],[-1.72,0.68],[-1.68,0.72],
  [-1.71,0.77],[-1.66,0.82],[-1.62,0.86],[-1.65,0.91],[-1.60,0.96],[-1.56,1.00],[-1.59,1.05],[-1.54,1.09],
  [-1.50,1.13],[-1.53,1.18],[-1.48,1.22],[-1.44,1.27],[-1.47,1.32],[-1.42,1.36],[-1.38,1.41],[-1.34,1.45],
  [-1.30,1.41],[-1.26,1.37],[-1.29,1.32],[-1.25,1.27],[-1.21,1.23],[-1.17,1.19],[-1.21,1.14],[-1.25,1.10],
  [-1.29,1.06],[-1.33,1.02],[-1.37,1.06],[-1.41,1.10],[-1.45,1.06],[-1.49,1.02],[-1.45,0.97],[-1.49,0.93],
  [-1.53,0.89],[-1.57,0.85],[-1.61,0.81],[-1.65,0.77],[-1.61,0.72],[-1.65,0.68],[-1.69,0.64],[-1.73,0.60],
  [-1.77,0.56],[-1.81,0.60],[-1.85,0.64],[-1.89,0.60],[-1.93,0.64],[-1.97,0.68],[-1.93,0.72],[-1.89,0.77],
  [-1.85,0.81],[-1.89,0.86],[-1.93,0.90],[-1.89,0.94],[-1.85,0.98],[-1.81,1.02],[-1.77,1.06],[-1.73,1.10],
  [-1.69,1.14],[-1.65,1.18],[-1.69,1.23],[-1.73,1.27],[-1.77,1.31],[-1.73,1.35],[-1.69,1.39],[-1.65,1.43],
  [-1.61,1.40],[-1.57,1.36],[-1.53,1.33],[-1.49,1.37],[-1.45,1.41],[-1.41,1.45]
];

const walkPath = [].concat(
  hookChain, hookTangle, lowerRightCluster, lowerRightTangle, climbRight, rightTangle, rightBlob,
  rightScribble, rightSpike, topBit, centralTop, centralSweep, centralBottom, centralVertical, toTopLeft,
  topLeft, topLeftTangle, topLeftScribble, circleSide, circleSideTangle, circleSideScribble,
  leftRidge, leftRidgeTangle, leftEdge, bottomLeft, bottomLeftTangle, bottomLeftScribble, bottomLeftOuter,
  midLeft, midLeftTangle, backToCentre,
  centralRowA, centralRowB, centralRowC, centralRowD, centralScribbleA, centralScribbleB,
  lowBand, bottomEdge, upperLeftScribble, rightScribble2, diagonalScribble
);

const FONT = "'Liberation Sans', Arial, Helvetica, sans-serif";
const AXIS_GREY = '#7f7f7f';
const TEXT_COL = '#262626';

// circulo vermelho, caixa com ticks para dentro, e o x10^4
const matlabAxes = {
  id: 'matlabAxes',
  afterDatasetsDraw(chart) {
    const { ctx, chartArea: a, scales: { x, y } } = chart;

    ctx.save();
    ctx.beginPath();
    ctx.rect(a.left, a.top, a.right - a.left, a.bottom - a.top);
    ctx.clip();
    const cx = x.getPixelForValue(circleCenter[0]);
    const cy = y.getPixelForValue(circleCenter[1]);
    const rx = x.getPixelForValue(circleCenter[0] + circleRadius) - cx;
    const ry = cy - y.getPixelForValue(circleCenter[1] + circleRadius);
    ctx.beginPath();
    ctx.ellipse(cx, cy, rx, ry, 0, 0, Math.PI * 2);
    ctx.strokeStyle = '#ff0000';
    ctx.lineWidth = 2;
    ctx.stroke();
    ctx.restore();

    ctx.save();
    ctx.strokeStyle = AXIS_GREY;
    ctx.lineWidth = 1;
    ctx.strokeRect(a.left + 0.5, a.top + 0.5, a.right - a.left - 1, a.bottom - a.top - 1);
    const len = 6;
    ctx.beginPath();
    axisTicks.forEach(v => {
      const px = Math.round(x.getPixelForValue(v)) + 0.5;
      ctx.moveTo(px, a.bottom); ctx.lineTo(px, a.bottom - len);
      ctx.moveTo(px, a.top); ctx.lineTo(px, a.top + len);
      const py = Math.round(y.getPixelForValue(v)) + 0.5;
      ctx.moveTo(a.left, py); ctx.lineTo(a.left + len, py);
      ctx.moveTo(a.right, py); ctx.lineTo(a.right - len, py);
    });
    ctx.stroke();
    ctx.restore();
  },
  afterDraw(chart) {
    const { ctx, chartArea: a } = chart;
    ctx.save();
    ctx.fillStyle = TEXT_COL;
    ctx.textBaseline = 'alphabetic';
    // topo do eixo y
    ctx.textAlign = 'left';
    ctx.font = '19px ' + FONT;
    ctx.fillText('\u00d710', a.left, a.top - 4);
    const w = ctx.measureText('\u00d710').width;
    ctx.font = '16px ' + FONT;
    ctx.fillText('4', a.left + w + 1, a.top - 12);
    // canto do eixo x
    ctx.textAlign = 'right';
    ctx.fillText('4', 710, 652);
    const w4 = ctx.measureText('4').width;
    ctx.font = '19px ' + FONT;
    ctx.fillText('\u00d710', 710 - w4 - 1, 661);
    ctx.restore();
  }
};

new Chart(document.getElementById('walkChart'), {
  type: 'scatter',
  data: {
    datasets: [{
      data: walkPath.map(p => ({ x: p[0], y: p[1] })),
      showLine: true,
      borderColor: '#000000',
      borderWidth: 2.5,
      borderJoinStyle: 'round',
      pointRadius: 0,
      tension: 0
    }]
  },
  options: {
    responsive: false,
    animation: false,
    events: [],
    layout: { padding: { top: 37, right: 1, left: 0, bottom: 0 }, autoPadding: false },
    plugins: { legend: { display: false }, tooltip: { enabled: false } },
    scales: {
      x: {
        type: 'linear',
        min: -3, max: 3,
        afterBuildTicks: s => { s.ticks = axisTicks.map(v => ({ value: v })); },
        afterFit: s => { s.height = 69; s.paddingLeft = 0; s.paddingRight = 0; },
        grid: { display: false },
        border: { display: false },
        ticks: { color: TEXT_COL, font: { family: FONT, size: 18 }, padding: 10, maxRotation: 0, autoSkip: false },
        title: { display: true, text: 'X (metros)', color: TEXT_COL, font: { family: FONT, size: 21 }, padding: { top: 0, bottom: 2 } }
      },
      y: {
        type: 'linear',
        min: -3, max: 3,
        afterBuildTicks: s => { s.ticks = axisTicks.map(v => ({ value: v })); },
        afterFit: s => { s.width = 67; s.paddingTop = 0; s.paddingBottom = 0; },
        grid: { display: false },
        border: { display: false },
        ticks: { color: TEXT_COL, font: { family: FONT, size: 18 }, padding: 9, autoSkip: false },
        title: { display: true, text: 'Y (metros)', color: TEXT_COL, font: { family: FONT, size: 21 }, padding: { top: 12, bottom: 0 } }
      }
    }
  },
  plugins: [matlabAxes]
});
</script>
</body>
</html>
